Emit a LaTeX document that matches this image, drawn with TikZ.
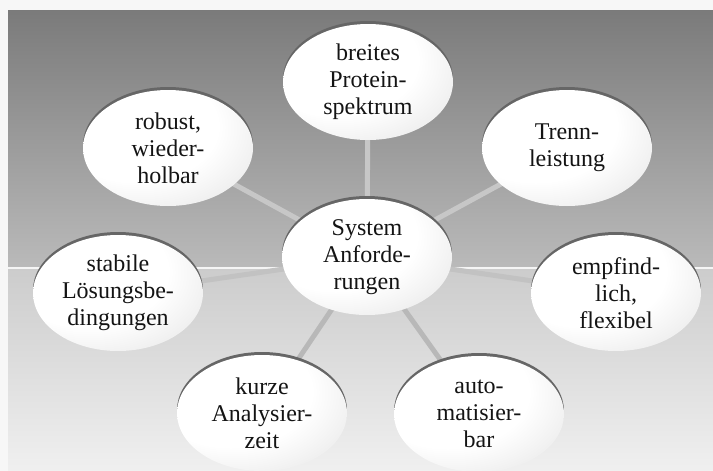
\documentclass[tikz,border=0pt]{standalone}
\usepackage{fontspec}
\setmainfont{Liberation Serif}
\usetikzlibrary{shapes.geometric}
\pgfdeclareradialshading{bubbleshade}{\pgfpoint{-14bp}{14bp}}{color(0bp)=(white); color(24bp)=(white); color(42bp)=(black!10); color(56bp)=(black!30); color(72bp)=(black!45)}
\pgfdeclarelayer{bglayer}
\pgfdeclarelayer{linklayer}
\pgfsetlayers{bglayer,linklayer,main}
\definecolor{rimgray}{gray}{0.40}
\definecolor{linkup}{gray}{0.78}
\definecolor{linklow}{gray}{0.72}
\definecolor{linkfaint}{gray}{0.76}
\tikzset{
  bubble/.style={ellipse, minimum width=170pt, minimum height=116pt, inner sep=0pt,
    align=center, font=\fontsize{24}{27}\selectfont, text=black!92,
    shade, shading=bubbleshade,
    preaction={fill=rimgray, transform canvas={yshift=3pt}}},
  link/.style={line width=5pt, draw=linkup},
}
\begin{document}
\begin{tikzpicture}[x=1pt,y=-1pt]
\useasboundingbox (0,0) rectangle (713,471);
\begin{pgfonlayer}{bglayer}
  \fill[white!97!black] (0,0) rectangle (713,471);
  \shade[top color=black!52, bottom color=black!27] (8,10) rectangle (713,268);
  \shade[top color=black!20, bottom color=black!6] (8,268) rectangle (713,471);
  \draw[white!96!black, line width=2pt] (8,268) -- (713,268);
\end{pgfonlayer}

\node[bubble] (c)  at (367,257) {System\\Anforde-\\rungen};
\node[bubble] (t1) at (368,82)  {breites\\Protein-\\spektrum};
\node[bubble] (t2) at (567,148) {Trenn-\\leistung};
\node[bubble] (t3) at (616,293) {empfind-\\lich,\\flexibel};
\node[bubble] (t4) at (479,414) {auto-\\matisier-\\bar};
\node[bubble] (t5) at (262,413) {kurze\\Analysier-\\zeit};
\node[bubble] (t6) at (118,293) {stabile\\Lösungsbe-\\dingungen};
\node[bubble] (t7) at (168,148) {robust,\\wieder-\\holbar};

\begin{pgfonlayer}{linklayer}
  \draw[link] (c.center) -- (t1.center);
  \draw[link] (c.center) -- (t2.center);
  \draw[link] (c.center) -- (t7.center);
  \draw[link, draw=linkfaint] (c.center) -- (t3.center);
  \draw[link, draw=linkfaint] (c.center) -- (t6.center);
  \draw[link, draw=linklow] (c.center) -- (t4.center);
  \draw[link, draw=linklow] (c.center) -- (t5.center);
\end{pgfonlayer}
\end{tikzpicture}
\end{document}
